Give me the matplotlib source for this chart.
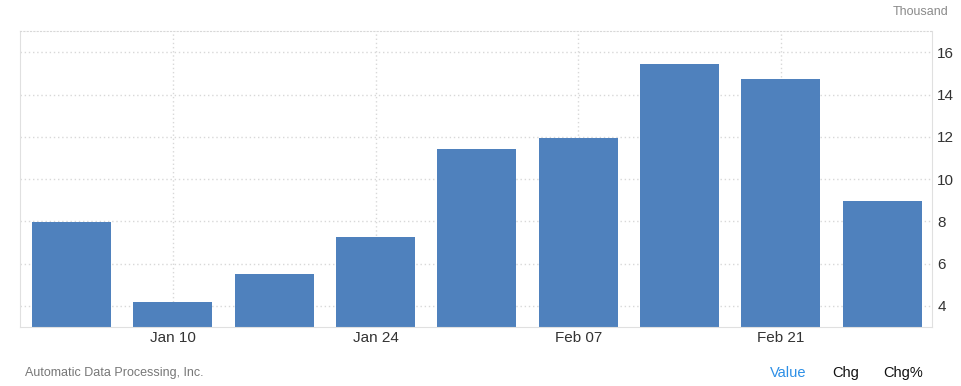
import matplotlib
matplotlib.use("Agg")
import matplotlib.pyplot as plt
import numpy as np

# weekly values (thousand)
weeks = ["Jan 03", "Jan 10", "Jan 17", "Jan 24", "Jan 31",
         "Feb 07", "Feb 14", "Feb 21", "Feb 28"]
values = [7.96, 4.2, 5.49, 7.25, 11.44, 11.97, 15.44, 14.73, 8.97]
shown_ticks = ["Jan 10", "Jan 24", "Feb 07", "Feb 21"]
y_ticks = [4, 6, 8, 10, 12, 14, 16]

plt.rcParams['font.family'] = ['Liberation Sans', 'DejaVu Sans']

fig = plt.figure(figsize=(9.62, 3.86), dpi=100)
ax = fig.add_axes([20 / 962, 59 / 386, 911.7 / 962, 295.7 / 386])

x = np.arange(len(weeks))
ax.bar(x, values, width=0.78, color='#4f81bd', zorder=2)

ax.set_xlim(-0.51, 8.49)
ax.set_ylim(3, 17)

tick_pos = [weeks.index(t) for t in shown_ticks]
ax.set_xticks(tick_pos)
ax.set_xticklabels(shown_ticks, fontsize=11, color='#333333')
ax.set_yticks(y_ticks)
ax.set_yticklabels([str(v) for v in y_ticks], fontsize=11, color='#333333')
ax.yaxis.tick_right()
ax.tick_params(axis='both', length=0)
ax.tick_params(axis='y', pad=4)
ax.tick_params(axis='x', pad=3)

ax.grid(True, linestyle=(0, (1, 2)), color='#d8d8d8', linewidth=1, zorder=0)

for side in ['left', 'right', 'bottom']:
    ax.spines[side].set_color('#e0e0e0')
ax.spines['top'].set_color('#d8d8d8')
ax.spines['top'].set_linestyle((0, (1, 2)))

fig.text(948 / 962, 1 - 12 / 386, "Thousand", ha='right', va='center',
         fontsize=9, color='#8a8a8a')
fig.text(25 / 962, 1 - 373 / 386, "Automatic Data Processing, Inc.",
         ha='left', va='center', fontsize=9, color='#777777')
fig.text(788 / 962, 1 - 373 / 386, "Value", ha='center', va='center',
         fontsize=10.5, color='#2d8fe6')
fig.text(846 / 962, 1 - 373 / 386, "Chg", ha='center', va='center',
         fontsize=10.5, color='#111111')
fig.text(903 / 962, 1 - 373 / 386, "Chg%", ha='center', va='center',
         fontsize=10.5, color='#111111')

fig.savefig("out.png", dpi=100)
